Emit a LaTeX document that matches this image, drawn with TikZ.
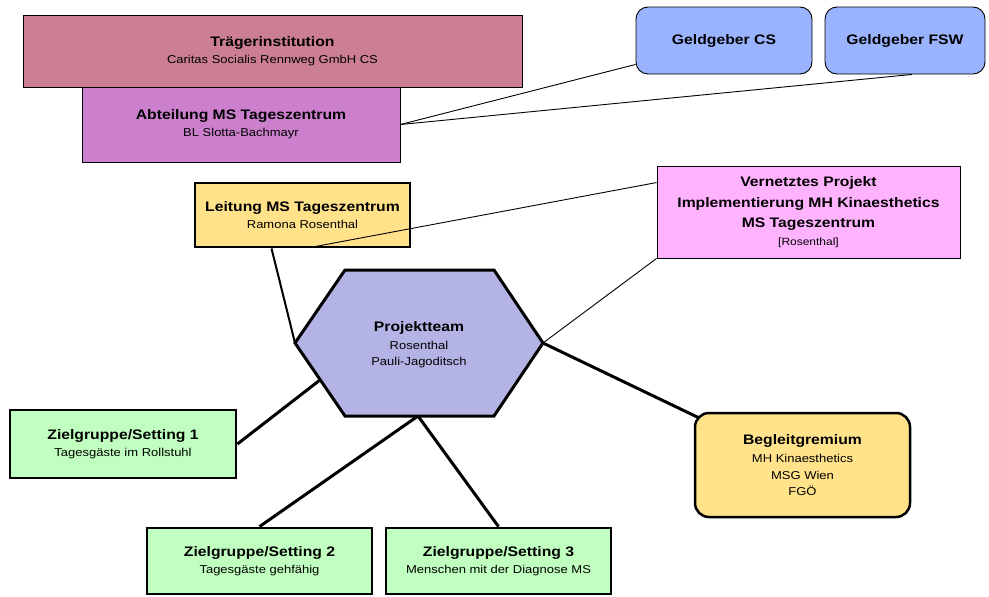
\documentclass[tikz,border=0pt]{standalone}
\usepackage{fontspec}
\setmainfont{Liberation Sans}[FakeStretch=1.14]
\usetikzlibrary{calc}
\definecolor{traeger}{RGB}{204,127,148}
\definecolor{abteil}{RGB}{204,127,204}
\definecolor{geld}{RGB}{153,179,255}
\definecolor{gelb}{RGB}{255,226,138}
\definecolor{vernetzt}{RGB}{255,179,255}
\definecolor{hexfill}{RGB}{179,179,230}
\definecolor{gruen}{RGB}{192,255,192}
\newcommand{\mytitle}[1]{{\fontsize{13.8}{17}\selectfont\bfseries #1}}
\tikzset{
  thinbox/.style={draw=black, line width=0.9pt, inner sep=0pt, align=center,
    font=\fontsize{11.4}{16.5}\selectfont},
  thickbox/.style={draw=black, line width=2.8pt, inner sep=0pt, align=center,
    font=\fontsize{11.4}{16.5}\selectfont},
  thinline/.style={draw=black, line width=0.9pt},
  midline/.style={draw=black, line width=2pt},
  thickline/.style={draw=black, line width=3pt},
}
\begin{document}
\begin{tikzpicture}[x=1pt,y=-1pt]
\useasboundingbox (0,0) rectangle (989,597);

% boxes
\node[thinbox, fill=traeger, minimum width=499pt, minimum height=72pt] (trae) at (272.5,51)
  {\mytitle{Trägerinstitution}\\[0.5pt]Caritas Socialis Rennweg GmbH CS};
\node[thinbox, fill=abteil, minimum width=318pt, minimum height=75pt] (abt) at (241,124.5)
  {\mytitle{Abteilung MS Tageszentrum}\\[0.5pt]BL Slotta-Bachmayr};
\node[thinbox, fill=geld, rounded corners=12pt, minimum width=176pt, minimum height=67pt] (gcs) at (724,40.5)
  {\mytitle{Geldgeber CS}};
\node[thinbox, fill=geld, rounded corners=12pt, minimum width=160pt, minimum height=67pt] (gfsw) at (905,40.5)
  {\mytitle{Geldgeber FSW}};
\node[thickbox, fill=gelb, minimum width=215pt, minimum height=64pt] (leit) at (302.5,215)
  {\mytitle{Leitung MS Tageszentrum}\\[0.5pt]Ramona Rosenthal};
\node[thinbox, fill=vernetzt, minimum width=303pt, minimum height=92pt] (vern) at (808.5,212)
  {\mytitle{Vernetztes Projekt}\\[4pt]\mytitle{Implementierung MH Kinaesthetics}\\[4pt]\mytitle{MS Tageszentrum}\\[1pt]{\fontsize{10.5}{14}\selectfont[Rosenthal]}};

% hexagon
\coordinate (hl) at (295,343);
\coordinate (htl) at (345,270);
\coordinate (htr) at (494,270);
\coordinate (hr) at (543,343);
\coordinate (hbr) at (494,416);
\coordinate (hbl) at (345,416);
\coordinate (hb) at (418,416);
\coordinate (hz) at (320,380);
\draw[fill=hexfill, line width=3pt, line join=miter] (hl) -- (htl) -- (htr) -- (hr) -- (hbr) -- (hbl) -- cycle;
\node[align=center, font=\fontsize{11.4}{16.5}\selectfont] (pt) at (419,345)
  {\mytitle{Projektteam}\\[1pt]Rosenthal\\Pauli-Jagoditsch};

\node[thickbox, fill=gruen, minimum width=226pt, minimum height=68pt] (z1) at (123,444)
  {\mytitle{Zielgruppe/Setting 1}\\[0.5pt]Tagesgäste im Rollstuhl};
\node[thickbox, fill=gruen, minimum width=225pt, minimum height=66pt] (z2) at (259.5,561)
  {\mytitle{Zielgruppe/Setting 2}\\[0.5pt]Tagesgäste gehfähig};
\node[thickbox, fill=gruen, minimum width=225pt, minimum height=66pt] (z3) at (498.5,561)
  {\mytitle{Zielgruppe/Setting 3}\\[0.5pt]Menschen mit der Diagnose MS};
\node[thickbox, line width=2.5pt, fill=gelb, rounded corners=14pt, minimum width=215pt, minimum height=104pt] (beg) at (802.5,465)
  {\mytitle{Begleitgremium}\\[2pt]MH Kinaesthetics\\MSG Wien\\FGÖ};

% connectors
\draw[thinline] (abt.east) -- ($(gcs.south west)+(0,-10)$);
\draw[thinline] (abt.east) -- ($(gfsw.south)+(7,0)$);
\draw[thinline] ($(leit.south)+(8,-1)$) -- ($(vern.north west)+(0,17)$);
\draw[thinline] (vern.south west) -- (hr);
\draw[midline] ($(leit.south)+(-31,0)$) -- (hl);
\draw[thickline] (hr) -- ($(beg.north west)+(5,6)$);
\draw[thickline] (z1.east) -- (hz);
\draw[thickline] (z2.north) -- (hb);
\draw[thickline] (z3.north) -- (hb);
\end{tikzpicture}
\end{document}
